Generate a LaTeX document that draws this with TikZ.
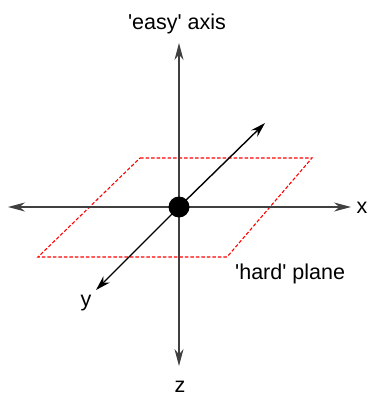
\documentclass[tikz,border=0pt]{standalone}
\usepackage{fontspec}
\setmainfont{Liberation Sans}
\usetikzlibrary{arrows.meta}

\begin{document}
\begin{tikzpicture}[x=1pt, y=-1pt,
    axis/.style={draw=black!75, line width=1.1pt, -{Stealth[length=17pt, width=9pt]}},
    diag/.style={draw=black, line width=1.4pt, -{Stealth[length=15pt, width=9pt]}},
    plane/.style={draw=red, line width=1.1pt, dash pattern=on 3.5pt off 2pt},
    lbl/.style={font=\fontsize{21.5}{24}\selectfont, inner sep=0pt}]
    \useasboundingbox (0,0) rectangle (370,396);

    % 轴的端点
    \coordinate (up) at (179,43);
    \coordinate (down) at (179,366);
    \coordinate (left) at (8,207);
    \coordinate (right) at (351,207);
    \coordinate (back) at (265,123);
    \coordinate (front) at (96,290);

    % 平面四个角
    \coordinate (P1) at (140,158);
    \coordinate (P2) at (312,158);
    \coordinate (P3) at (227,257);
    \coordinate (P4) at (38,257);

    % 'hard' 平面（虚线）
    \draw[plane] (P1) -- (P2) -- (P3) -- (P4) -- cycle;

    % 原点位置
    \coordinate (O) at (179,207);

    % 坐标轴
    \draw[axis] (O) -- (up);
    \draw[axis] (O) -- (down);
    \draw[axis] (O) -- (left);
    \draw[axis] (O) -- (right);
    \draw[diag] (O) -- (back);
    \draw[diag] (O) -- (front);

    % 原点（画在轴上面）
    \node[circle, fill=black, minimum size=21pt, inner sep=0pt] (o) at (O) {};

    % 标注
    \node[lbl, anchor=base] (easy) at (177,30) {\textquotesingle easy\textquotesingle\ axis};
    \node[lbl, anchor=base west] (hard) at (235,279) {\textquotesingle hard\textquotesingle\ plane};
    \node[lbl, anchor=base] (xl) at (362,213) {x};
    \node[lbl, anchor=base] (yl) at (86,306) {y};
    \node[lbl, anchor=base] (zl) at (180,392) {z};
\end{tikzpicture}
\end{document}
